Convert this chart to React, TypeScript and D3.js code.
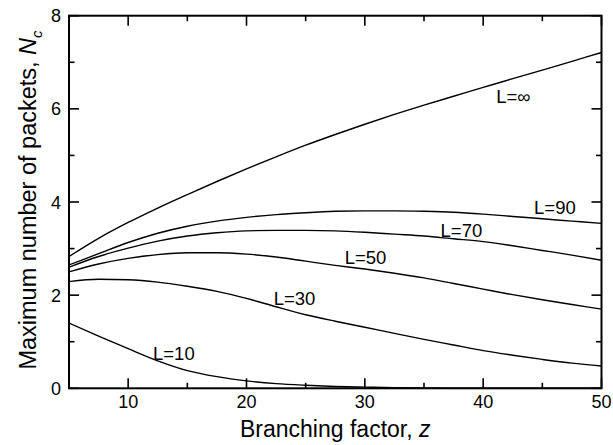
import React from "react";
import * as d3 from "d3";

const zValues = [5, 7.5, 10, 12.5, 15, 17.5, 20, 22.5, 25, 27.5, 30, 32.5, 35, 37.5, 40, 42.5, 45, 47.5, 50];

const seriesLInf = [2.83, 3.22, 3.56, 3.87, 4.16, 4.44, 4.71, 4.97, 5.22, 5.45, 5.67, 5.88, 6.08, 6.27, 6.46, 6.65, 6.83, 7.02, 7.21];
const seriesL90 = [2.65, 2.89, 3.13, 3.33, 3.48, 3.59, 3.67, 3.73, 3.77, 3.8, 3.81, 3.81, 3.8, 3.78, 3.74, 3.69, 3.64, 3.59, 3.54];
const seriesL70 = [2.6, 2.83, 3.01, 3.16, 3.27, 3.34, 3.38, 3.39, 3.39, 3.38, 3.35, 3.31, 3.27, 3.21, 3.15, 3.06, 2.96, 2.86, 2.75];
const seriesL50 = [2.5, 2.67, 2.79, 2.87, 2.91, 2.91, 2.88, 2.82, 2.73, 2.64, 2.56, 2.47, 2.37, 2.25, 2.13, 2.01, 1.9, 1.8, 1.7];
const seriesL30 = [2.29, 2.34, 2.33, 2.28, 2.19, 2.08, 1.93, 1.75, 1.58, 1.44, 1.31, 1.18, 1.05, 0.93, 0.81, 0.71, 0.62, 0.54, 0.48];
const seriesL10 = [1.4, 1.12, 0.85, 0.59, 0.38, 0.25, 0.16, 0.1, 0.065, 0.04, 0.025, 0.013, 0.006, 0.002, 0, 0, 0, 0, 0];

const seriesNames = ["L=∞", "L=90", "L=70", "L=50", "L=30", "L=10"];
// label anchor positions in data units (z, N)
const labelZ = [41.1, 44.3, 36.4, 28.3, 22.3, 12.1];
const labelN = [6.12, 3.75, 3.24, 2.67, 1.79, 0.61];

const xMajorTicks = [10, 20, 30, 40, 50];
const xMinorTicks = [15, 25, 35, 45];
const yMajorTicks = [0, 2, 4, 6, 8];
const yMinorTicks = [1, 3, 5, 7];

const W = 613;
const H = 445;
const margin = { left: 69, right: 11.5, top: 15.7, bottom: 56.7 };

export default function App() {
  const x = d3.scaleLinear().domain([5, 50]).range([margin.left, W - margin.right]);
  const y = d3.scaleLinear().domain([0, 8]).range([H - margin.bottom, margin.top]);
  const all = [seriesLInf, seriesL90, seriesL70, seriesL50, seriesL30, seriesL10];
  const line = d3
    .line<number>()
    .x((_, i) => x(zValues[i]))
    .y((d) => y(d))
    .curve(d3.curveMonotoneX);

  const x0 = x(5), x1 = x(50), y0 = y(0), y1 = y(8);
  const font = "'Liberation Sans', Arial, Helvetica, sans-serif";
  const major = 10;
  const minor = 5.5;

  return (
    <svg width={W} height={H} style={{ position: "absolute", left: 0, top: 0, background: "#fff" }} fontFamily={font}>
      <defs>
        <clipPath id="plot">
          <rect x={x0} y={y1} width={x1 - x0} height={y0 - y1} />
        </clipPath>
      </defs>
      <g clipPath="url(#plot)">
        {all.map((s, i) => (
          <path key={i} d={line(s) || ""} fill="none" stroke="#000" strokeWidth={1.4} />
        ))}
      </g>
      {seriesNames.map((n, i) => (
        <text key={n} x={x(labelZ[i])} y={y(labelN[i])} fontSize={18.5} fill="#000">
          {n}
        </text>
      ))}
      {/* ticks */}
      <g stroke="#000" strokeWidth={1.6}>
        {xMajorTicks.map((t) => (
          <g key={"xM" + t}>
            <line x1={x(t)} x2={x(t)} y1={y0} y2={y0 - major} />
            <line x1={x(t)} x2={x(t)} y1={y1} y2={y1 + major} />
          </g>
        ))}
        {xMinorTicks.map((t) => (
          <g key={"xm" + t}>
            <line x1={x(t)} x2={x(t)} y1={y0} y2={y0 - minor} />
            <line x1={x(t)} x2={x(t)} y1={y1} y2={y1 + minor} />
          </g>
        ))}
        {yMajorTicks.map((t) => (
          <g key={"yM" + t}>
            <line x1={x0} x2={x0 + major} y1={y(t)} y2={y(t)} />
            <line x1={x1} x2={x1 - major} y1={y(t)} y2={y(t)} />
          </g>
        ))}
        {yMinorTicks.map((t) => (
          <g key={"ym" + t}>
            <line x1={x0} x2={x0 + minor} y1={y(t)} y2={y(t)} />
            <line x1={x1} x2={x1 - minor} y1={y(t)} y2={y(t)} />
          </g>
        ))}
      </g>
      <rect x={x0} y={y1} width={x1 - x0} height={y0 - y1} fill="none" stroke="#000" strokeWidth={2} />
      {/* tick labels */}
      {xMajorTicks.map((t) => (
        <text key={"xl" + t} x={x(t)} y={y0 + 20} fontSize={18} textAnchor="middle" fill="#000">
          {t}
        </text>
      ))}
      {yMajorTicks.map((t) => (
        <text key={"yl" + t} x={x0 - 8} y={y(t) + 6.5} fontSize={18} textAnchor="end" fill="#000">
          {t}
        </text>
      ))}
      {/* axis titles */}
      <text x={(x0 + x1) / 2} y={437} fontSize={23} textAnchor="middle" fill="#000">
        Branching factor, <tspan fontStyle="italic">z</tspan>
      </text>
      <text
        transform={`translate(36, ${(y0 + y1) / 2 - 2}) rotate(-90)`}
        fontSize={23.5}
        textAnchor="middle"
        fill="#000"
      >
        Maximum number of packets, <tspan fontStyle="italic">N</tspan>
        <tspan fontStyle="italic" fontSize={15} dy={6}>c</tspan>
      </text>
    </svg>
  );
}
